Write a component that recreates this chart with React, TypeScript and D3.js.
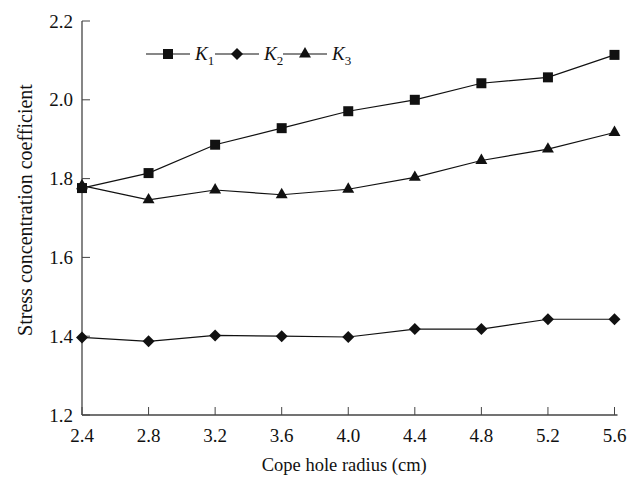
import React from "react";
import * as d3 from "d3";

const radii = [2.4, 2.8, 3.2, 3.6, 4.0, 4.4, 4.8, 5.2, 5.6];
const k1 = [1.776, 1.814, 1.886, 1.928, 1.971, 2.0, 2.042, 2.057, 2.114];
const k2 = [1.397, 1.387, 1.402, 1.4, 1.398, 1.418, 1.418, 1.443, 1.443];
const k3 = [1.782, 1.746, 1.771, 1.759, 1.773, 1.803, 1.846, 1.875, 1.917];
const xTicks = [2.4, 2.8, 3.2, 3.6, 4.0, 4.4, 4.8, 5.2, 5.6];
const yTicks = [1.2, 1.4, 1.6, 1.8, 2.0, 2.2];
const seriesNames = ["1", "2", "3"];

const W = 629;
const H = 478;
const FONT = "'Liberation Serif', 'Times New Roman', serif";
const INK = "#111";

export default function App() {
  const x = d3.scaleLinear().domain([2.4, 5.6]).range([82, 614.5]);
  const y = d3.scaleLinear().domain([1.2, 2.2]).range([415, 21]);
  const line = d3
    .line<[number, number]>()
    .x((d) => x(d[0]))
    .y((d) => y(d[1]));

  const square = d3.symbol().type(d3.symbolSquare).size(100)()!;
  const diamond = d3.symbol().type(d3.symbolSquare).size(72)()!;
  const triangle = d3.symbol().type(d3.symbolTriangle).size(62)()!;

  const series = [
    { vals: k1, path: square, rot: 0 },
    { vals: k2, path: diamond, rot: 45 },
    { vals: k3, path: triangle, rot: 0 },
  ];

  const legendX = [146, 215, 283];
  const legendY = 54;

  return (
    <svg
      width={W}
      height={H}
      style={{ position: "absolute", left: 0, top: 0, background: "#fff" }}
      fontFamily={FONT}
    >
      <rect width={W} height={H} fill="#fff" />
      {/* axes */}
      <line x1={x(2.4)} x2={x(5.6) + 3} y1={y(1.2)} y2={y(1.2)} stroke="#444" strokeWidth={1.3} />
      <line x1={x(2.4)} x2={x(2.4)} y1={y(1.2)} y2={y(2.2)} stroke="#444" strokeWidth={1.3} />
      {xTicks.map((t) => (
        <g key={"xt" + t}>
          <line x1={x(t)} x2={x(t)} y1={y(1.2)} y2={y(1.2) - 8} stroke="#444" strokeWidth={1} />
          <text x={x(t)} y={y(1.2) + 27} textAnchor="middle" fontSize={19} fill={INK}>
            {t.toFixed(1)}
          </text>
        </g>
      ))}
      {yTicks.map((t) => (
        <g key={"yt" + t}>
          <line x1={x(2.4)} x2={x(2.4) + 8} y1={y(t)} y2={y(t)} stroke="#444" strokeWidth={1} />
          <text x={x(2.4) - 9} y={y(t) + 6.5} textAnchor="end" fontSize={19} fill={INK}>
            {t.toFixed(1)}
          </text>
        </g>
      ))}
      <text x={(x(2.4) + x(5.6)) / 2 - 4} y={471} textAnchor="middle" fontSize={18.5} fill={INK}>
        Cope hole radius (cm)
      </text>
      <text
        transform={`translate(32, 210) rotate(-90)`}
        textAnchor="middle"
        fontSize={20}
        fill={INK}
      >
        Stress concentration coefficient
      </text>
      {/* series */}
      {series.map((s, i) => {
        const pts = radii.map((r, j) => [r, s.vals[j]] as [number, number]);
        return (
          <g key={"s" + i}>
            <path d={line(pts)!} fill="none" stroke={INK} strokeWidth={1.2} />
            {pts.map((p, j) => (
              <path
                key={j}
                d={s.path}
                transform={`translate(${x(p[0])},${y(p[1])}) rotate(${s.rot})`}
                fill={INK}
              />
            ))}
          </g>
        );
      })}
      {/* legend */}
      {series.map((s, i) => (
        <g key={"lg" + i}>
          <line x1={legendX[i]} x2={legendX[i] + 44} y1={legendY} y2={legendY} stroke={INK} strokeWidth={1.2} />
          <path d={s.path} transform={`translate(${legendX[i] + 22},${legendY}) rotate(${s.rot})`} fill={INK} />
          <text x={legendX[i] + 49} y={legendY + 6} fontSize={19} fill={INK}>
            <tspan fontStyle="italic">K</tspan>
            <tspan fontSize={13} dy={5}>{seriesNames[i]}</tspan>
          </text>
        </g>
      ))}
    </svg>
  );
}
